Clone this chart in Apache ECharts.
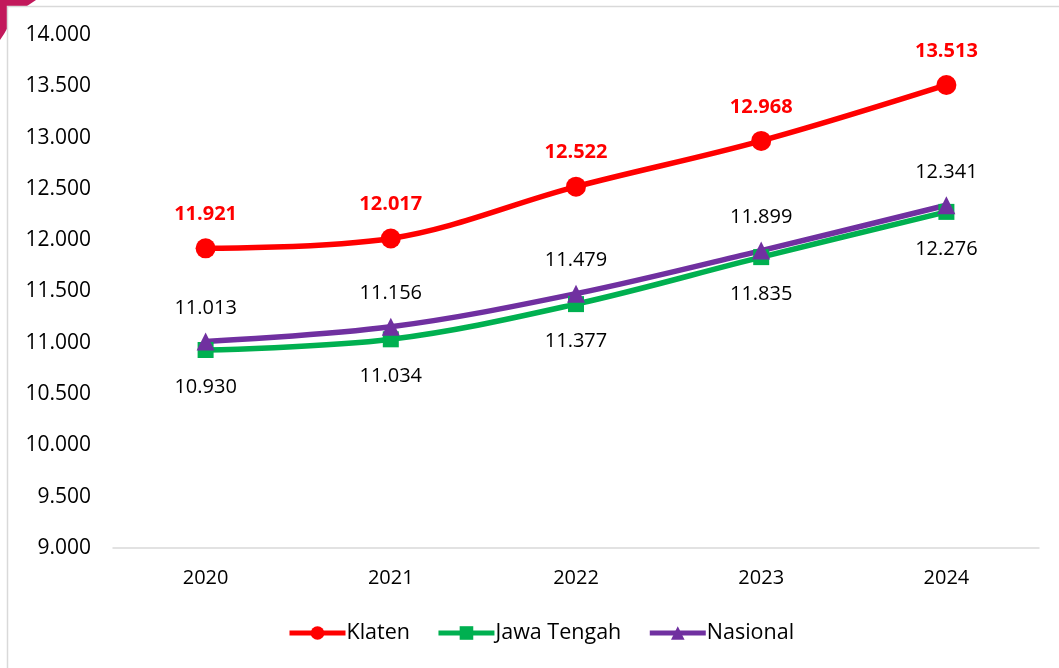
<!DOCTYPE html>
<html>
<head>
<meta charset="utf-8">
<script src="https://cdn.jsdelivr.net/npm/echarts@6/dist/echarts.min.js"></script>
<style>
  html, body { margin: 0; padding: 0; background: #ffffff; }
  #chart { width: 1059px; height: 668px; }
</style>
</head>
<body>
<div id="chart"></div>
<script>
// Years on the x axis
const years = ['2020', '2021', '2022', '2023', '2024'];

// Series values
const klaten = [11921, 12017, 12522, 12968, 13513];
const jawaTengah = [10930, 11034, 11377, 11835, 12276];
const nasional = [11013, 11156, 11479, 11899, 12341];

const FONT = "'Open Sans', 'Noto Sans', sans-serif";

// Thousands separated by a dot, no decimals
function fmt(v) {
  return String(Math.round(v)).replace(/\B(?=(\d{3})+(?!\d))/g, '.');
}

const chart = echarts.init(document.getElementById('chart'), null, { renderer: 'canvas' });

function lineSeries(name, data, color, symbol, size, labelPos, dist, bold) {
  return {
    name: name,
    type: 'line',
    data: data,
    smooth: 0.35,
    symbol: symbol,
    symbolSize: size,
    lineStyle: { width: 5.5, color: color },
    itemStyle: { color: color },
    label: {
      show: true,
      position: labelPos,
      distance: dist,
      formatter: p => fmt(p.value),
      color: bold ? '#ff0000' : '#000000',
      fontWeight: bold ? 'bold' : 'normal',
      fontSize: 20,
      fontFamily: FONT
    },
    emphasis: { disabled: true },
    z: 3
  };
}

chart.setOption({
  animation: false,
  backgroundColor: '#ffffff',
  graphic: [
    {
      type: 'polygon',
      shape: { points: [[0, 0], [36, 0], [24, 8], [12, 20], [4, 34], [0, 40]] },
      style: { fill: '#c2185b' },
      z: -1
    },
    {
      type: 'rect',
      shape: { x: 7.5, y: 6.5, width: 1100, height: 700 },
      style: { fill: '#ffffff', stroke: '#d9d9d9', lineWidth: 1.5 },
      z: 0
    }
  ],
  grid: { left: 113, right: 20, top: 35, bottom: 120, containLabel: false },
  legend: {
    bottom: 19,
    left: 282,
    itemWidth: 56,
    itemHeight: 17,
    itemGap: 26,
    lineStyle: { width: 5 },
    textStyle: { fontSize: 21.5, fontFamily: FONT, color: '#000000', padding: [0, 0, 0, -4] },
    data: ['Klaten', 'Jawa Tengah', 'Nasional']
  },
  xAxis: {
    type: 'category',
    data: years,
    boundaryGap: true,
    axisLine: { show: true, lineStyle: { color: '#d9d9d9', width: 1.5 } },
    axisTick: { show: false },
    axisLabel: { fontSize: 20, fontFamily: FONT, color: '#000000', margin: 20 },
    splitLine: { show: false }
  },
  yAxis: {
    type: 'value',
    min: 9000,
    max: 14000,
    interval: 500,
    axisLine: { show: false },
    axisTick: { show: false },
    splitLine: { show: false },
    axisLabel: {
      fontSize: 21,
      fontFamily: FONT,
      color: '#000000',
      margin: 22,
      formatter: v => fmt(v)
    }
  },
  series: [
    lineSeries('Klaten', klaten, '#ff0000', 'circle', 20, 'top', 14, true),
    lineSeries('Jawa Tengah', jawaTengah, '#00b050', 'rect', 16, 'bottom', 19, false),
    lineSeries('Nasional', nasional, '#7030a0', 'triangle', 18, 'top', 14, false)
  ]
});
</script>
</body>
</html>
